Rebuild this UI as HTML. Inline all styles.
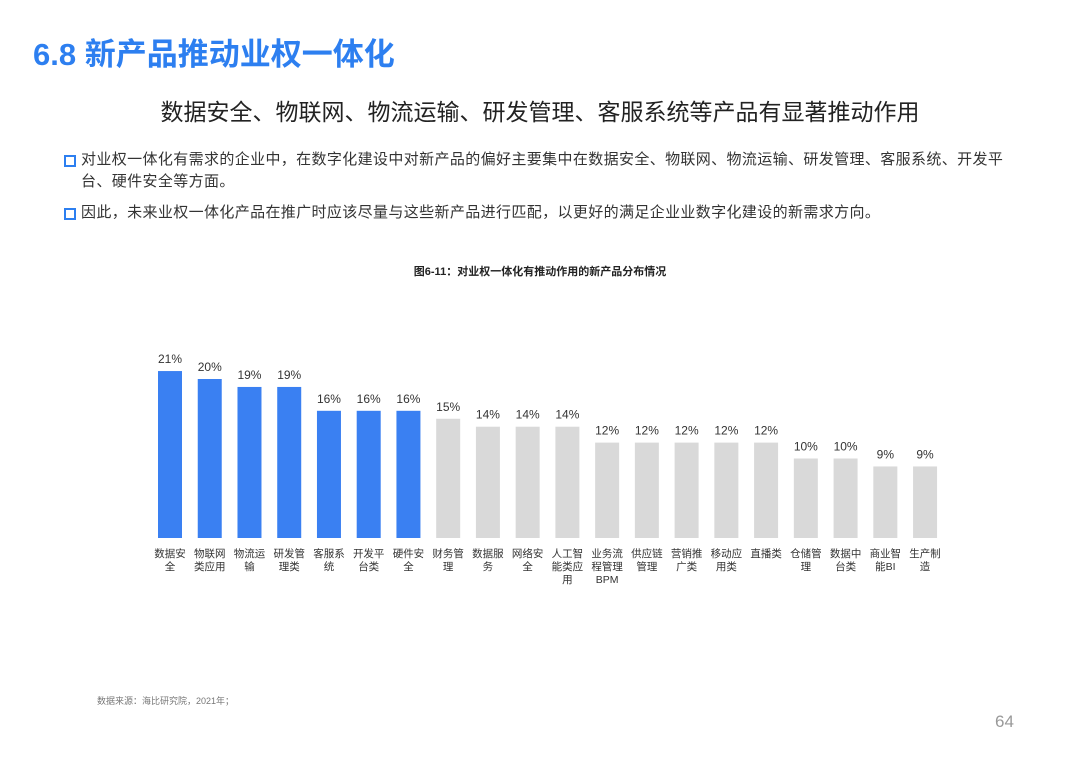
<!DOCTYPE html>
<html><head><meta charset="utf-8"><style>
body{margin:0;width:1080px;height:763px;background:#fff;position:relative;overflow:hidden;font-family:"Liberation Sans","Noto Sans CJK SC",sans-serif;}
.abs{position:absolute;}
#title{left:33px;top:29px;font-size:31px;font-weight:bold;color:#2d7ff0;white-space:nowrap;}
#sub{left:0;width:1080px;top:93px;text-align:center;font-size:23px;color:#222;white-space:nowrap;}
.bul{left:64px;font-size:15px;letter-spacing:0.37px;color:#333;line-height:22px;width:990px;white-space:nowrap;}
.sq{position:absolute;left:0;top:6px;width:8px;height:8px;border:2px solid #2d7ff0;}
.bul span.t{display:block;padding-left:17px;}
#ctitle{left:0;width:1080px;top:263px;text-align:center;font-size:11px;font-weight:bold;color:#222;}
#src{left:97px;top:694px;font-size:9px;color:#777;}
#pg{left:995px;top:712px;font-size:17px;color:#999;}
</style></head><body>
<div class="abs" id="title">6.8 新产品推动业权一体化</div>
<div class="abs" id="sub">数据安全、物联网、物流运输、研发管理、客服系统等产品有显著推动作用</div>
<div class="abs bul" style="top:149px"><div class="sq"></div><span class="t">对业权一体化有需求的企业中，在数字化建设中对新产品的偏好主要集中在数据安全、物联网、物流运输、研发管理、客服系统、开发平<br>台、硬件安全等方面。</span></div>
<div class="abs bul" style="top:202px"><div class="sq"></div><span class="t">因此，未来业权一体化产品在推广时应该尽量与这些新产品进行匹配，以更好的满足企业业数字化建设的新需求方向。</span></div>
<div class="abs" id="ctitle">图6-11：对业权一体化有推动作用的新产品分布情况</div>
<svg class="abs" style="left:0;top:0" width="1080" height="763" id="chart"></svg>
<div class="abs" id="src">数据来源：海比研究院，2021年；</div>
<div class="abs" id="pg">64</div>
<script>
const categories=[["数据安","全"],["物联网","类应用"],["物流运","输"],["研发管","理类"],["客服系","统"],["开发平","台类"],["硬件安","全"],["财务管","理"],["数据服","务"],["网络安","全"],["人工智","能类应","用"],["业务流","程管理","BPM"],["供应链","管理"],["营销推","广类"],["移动应","用类"],["直播类"],["仓储管","理"],["数据中","台类"],["商业智","能BI"],["生产制","造"]];
const values=[21,20,19,19,16,16,16,15,14,14,14,12,12,12,12,12,10,10,9,9];
const highlighted=[1,1,1,1,1,1,1,0,0,0,0,0,0,0,0,0,0,0,0,0];
const svg=document.getElementById('chart');const NS='http://www.w3.org/2000/svg';
const base=538,pxPer=7.95,x0=158,step=39.74,bw=24;
const y=v=>base-v*pxPer;const x=i=>x0+i*step;
values.forEach((v,i)=>{
 const r=document.createElementNS(NS,'rect');
 r.setAttribute('x',x(i));r.setAttribute('y',y(v));r.setAttribute('width',bw);r.setAttribute('height',base-y(v));
 r.setAttribute('fill',highlighted[i]?'#3a80f2':'#d9d9d9');
 
 
 svg.appendChild(r);
 const t=document.createElementNS(NS,'text');
 t.setAttribute('x',x(i)+bw/2);t.setAttribute('y',y(v)-8);t.setAttribute('text-anchor','middle');
 t.setAttribute('font-size','12');t.setAttribute('fill','#333');t.textContent=v+'%';
 
 
 svg.appendChild(t);
 categories[i].forEach((ln,j)=>{
  const c=document.createElementNS(NS,'text');
  c.setAttribute('x',x(i)+bw/2);c.setAttribute('y',557+j*13);c.setAttribute('text-anchor','middle');
  c.setAttribute('font-size','10.5');c.setAttribute('fill','#333');c.textContent=ln;
  
  
  svg.appendChild(c);
 });
});
</script>
</body></html>
